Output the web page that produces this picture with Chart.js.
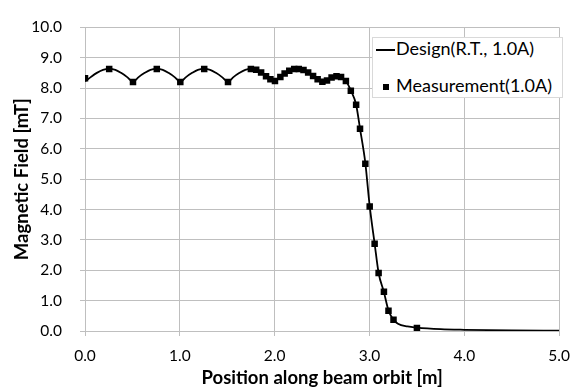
<!DOCTYPE html>
<html>
<head>
<meta charset="utf-8">
<script src="https://cdn.jsdelivr.net/npm/chart.js@4.4.1/dist/chart.umd.min.js"></script>
<style>
  html, body { margin: 0; padding: 0; background: #fff; }
  #wrap { position: relative; width: 581px; height: 389px; }
  #legend {
    position: absolute; left: 372px; top: 37px; width: 189px; height: 59px;
    background: #fff; border: 1px solid #d9d9d9;
    font-family: Lato, "Open Sans", sans-serif; font-size: 18px; color: #000;
  }
  #legend .row { position: absolute; left: 0; white-space: nowrap; line-height: 22px; }
  #legend .ln { display: inline-block; width: 19px; height: 0; border-top: 2px solid #000; vertical-align: middle; margin: 0 1px 0 3px; }
  #legend .sq { display: inline-block; width: 6px; height: 6px; background: #000; vertical-align: middle; margin: 0 7px 0 10px; }
</style>
</head>
<body>
<div id="wrap">
  <canvas id="chart" width="581" height="389"></canvas>
  <div id="legend">
    <div class="row" style="top:-1px"><span class="ln"></span>Design(R.T., 1.0A)</div>
    <div class="row" style="top:36px"><span class="sq"></span>Measurement(1.0A)</div>
  </div>
</div>
<script>
// measured points (position [m], field [mT])
var measX = [0.00, 0.255, 0.506, 0.757, 1.005, 1.257, 1.508, 1.749, 1.805, 1.857, 1.909, 1.955,
  2.003, 2.06, 2.105, 2.154, 2.206, 2.254, 2.304, 2.353, 2.405, 2.453, 2.503, 2.552, 2.60, 2.652,
  2.70, 2.751, 2.803, 2.859, 2.90, 2.956, 3.002, 3.054, 3.096, 3.152, 3.20, 3.253, 3.50];
var measY = [8.32, 8.63, 8.20, 8.63, 8.20, 8.63, 8.20, 8.63, 8.60, 8.51, 8.39, 8.29,
  8.23, 8.36, 8.48, 8.57, 8.63, 8.63, 8.59, 8.51, 8.40, 8.29, 8.21, 8.25, 8.35, 8.39,
  8.36, 8.23, 7.91, 7.45, 6.66, 5.51, 4.10, 2.87, 1.91, 1.29, 0.67, 0.37, 0.10];

// design curve
var designX = [0.00, 0.06, 0.125, 0.19, 0.255, 0.32, 0.38, 0.445, 0.506, 0.565, 0.63, 0.69, 0.757,
  0.82, 0.88, 0.945, 1.005, 1.065, 1.13, 1.19, 1.257, 1.32, 1.38, 1.445, 1.508, 1.565, 1.63, 1.69,
  1.749, 1.805, 1.857, 1.909, 1.955, 2.003, 2.06, 2.105, 2.154, 2.206, 2.254, 2.304, 2.353, 2.405,
  2.453, 2.503, 2.552, 2.60, 2.652, 2.70, 2.751, 2.803, 2.859, 2.90, 2.956, 3.002, 3.054, 3.096,
  3.152, 3.20, 3.253, 3.30, 3.40, 3.50, 3.75, 4.00, 4.50, 5.00];
var designY = [8.22, 8.36, 8.50, 8.60, 8.63, 8.60, 8.50, 8.36, 8.20, 8.36, 8.50, 8.60, 8.63,
  8.60, 8.50, 8.36, 8.20, 8.36, 8.50, 8.60, 8.63, 8.60, 8.50, 8.36, 8.20, 8.36, 8.50, 8.60,
  8.63, 8.60, 8.51, 8.39, 8.29, 8.24, 8.36, 8.48, 8.57, 8.63, 8.64, 8.59, 8.51, 8.40,
  8.29, 8.21, 8.25, 8.35, 8.39, 8.36, 8.23, 7.92, 7.45, 6.66, 5.53, 4.11, 2.88, 1.91,
  1.28, 0.68, 0.37, 0.24, 0.15, 0.11, 0.06, 0.04, 0.02, 0.01];

var yTicks = [0, 1, 2, 3, 4, 5, 6, 7, 8, 9, 10];
var xTicks = [0, 1, 2, 3, 4, 5];

function pts(xs, ys) {
  return xs.map(function (x, i) { return { x: x, y: ys[i] }; });
}

Chart.defaults.font.family = "Lato, 'Open Sans', sans-serif";
Chart.defaults.color = '#000';

var gridColor = '#bfbfbf';

new Chart(document.getElementById('chart'), {
  type: 'scatter',
  data: {
    datasets: [{
      label: 'Measurement(1.0A)',
      data: pts(measX, measY),
      pointStyle: 'rect',
      pointRadius: 4.6,
      backgroundColor: '#000',
      borderColor: '#000',
      borderWidth: 0,
      order: 0
    }, {
      label: 'Design(R.T., 1.0A)',
      data: pts(designX, designY),
      showLine: true,
      pointRadius: 0,
      borderColor: '#000',
      borderWidth: 1.8,
      cubicInterpolationMode: 'monotone',
      order: 1
    }]
  },
  options: {
    responsive: false,
    animation: false,
    layout: { padding: { top: 16, right: 19, left: 11, bottom: 0 } },
    plugins: { legend: { display: false }, tooltip: { enabled: false } },
    scales: {
      x: {
        type: 'linear', min: 0, max: 5,
        afterBuildTicks: function (s) { s.ticks = xTicks.map(function (v) { return { value: v }; }); },
        afterFit: function (s) { s.height = 58; },
        grid: { color: gridColor, tickLength: 5 },
        border: { color: gridColor },
        ticks: { font: { size: 15.5 }, padding: 11, callback: function (v) { return v.toFixed(1); } },
        title: { display: true, text: 'Position along beam orbit [m]', font: { size: 18.5, weight: 'bold' }, padding: { top: 0, bottom: 0 } }
      },
      y: {
        min: 0, max: 10,
        afterBuildTicks: function (s) { s.ticks = yTicks.map(function (v) { return { value: v }; }); },
        afterFit: function (s) { s.width = 74; },
        grid: { color: gridColor, tickLength: 5 },
        border: { color: gridColor },
        ticks: { font: { size: 15.5 }, padding: 18, callback: function (v) { return v.toFixed(1); } },
        title: { display: true, text: 'Magnetic Field [mT]', font: { size: 18.5, weight: 'bold' }, padding: { top: 0, bottom: 0 } }
      }
    }
  }
});
</script>
</body>
</html>
